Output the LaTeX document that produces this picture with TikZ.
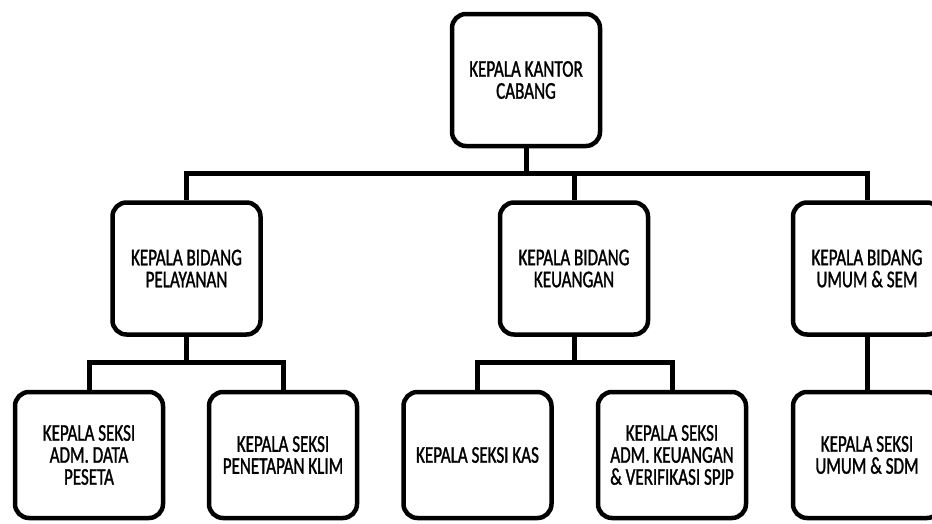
\documentclass[tikz,border=0pt]{standalone}
\usepackage{fontspec}
\setmainfont{Carlito}[FakeStretch=0.71,FakeBold=1.2]
\begin{document}
\begin{tikzpicture}[x=1pt,y=-1pt,
  orgbox/.style={draw=black, line width=4.5pt, rounded corners=14pt,
    minimum width=148pt, align=center, inner sep=0pt,
    font=\fontsize{24}{22}\selectfont},
  tallbox/.style={orgbox, minimum height=132pt},
  lowbox/.style={orgbox, minimum height=126pt},
  link/.style={draw=black, line width=5pt, line join=miter}]
\clip (0,0) rectangle (932,523);
\fill[white] (0,0) rectangle (932,523);
\node[tallbox] (top) at (526,80) {KEPALA KANTOR\\CABANG};
\node[tallbox] (pel) at (186.5,268.5) {KEPALA BIDANG\\PELAYANAN};
\node[tallbox] (keu) at (574,268.5) {KEPALA BIDANG\\KEUANGAN};
\node[tallbox] (umum) at (867,268.5) {KEPALA BIDANG\\UMUM \& SEM};
\node[lowbox] (s1) at (89,455) {KEPALA SEKSI\\ADM. DATA\\PESETA};
\node[lowbox] (s2) at (283,455) {KEPALA SEKSI\\PENETAPAN KLIM};
\node[lowbox] (s3) at (477.5,455) {KEPALA SEKSI KAS};
\node[lowbox] (s4) at (672,455) {KEPALA SEKSI\\ADM. KEUANGAN\\\& VERIFIKASI SPJP};
\node[lowbox] (s5) at (867,455) {KEPALA SEKSI\\UMUM \& SDM};
\coordinate (bar) at (0,173);
\coordinate (barp) at (0,362);
\path[link] (top.south) -- (top.south |- bar);
\path[link] (pel.north) -- (pel.north |- bar) -| (umum.north);
\path[link] (keu.north) -- (keu.north |- bar);
\path[link] (pel.south) -- (pel.south |- barp);
\path[link] (s1.north) -- (s1.north |- barp) -| (s2.north);
\path[link] (keu.south) -- (keu.south |- barp);
\path[link] (s3.north) -- (s3.north |- barp) -| (s4.north);
\path[link] (umum.south) -- (s5.north);
\end{tikzpicture}
\end{document}
